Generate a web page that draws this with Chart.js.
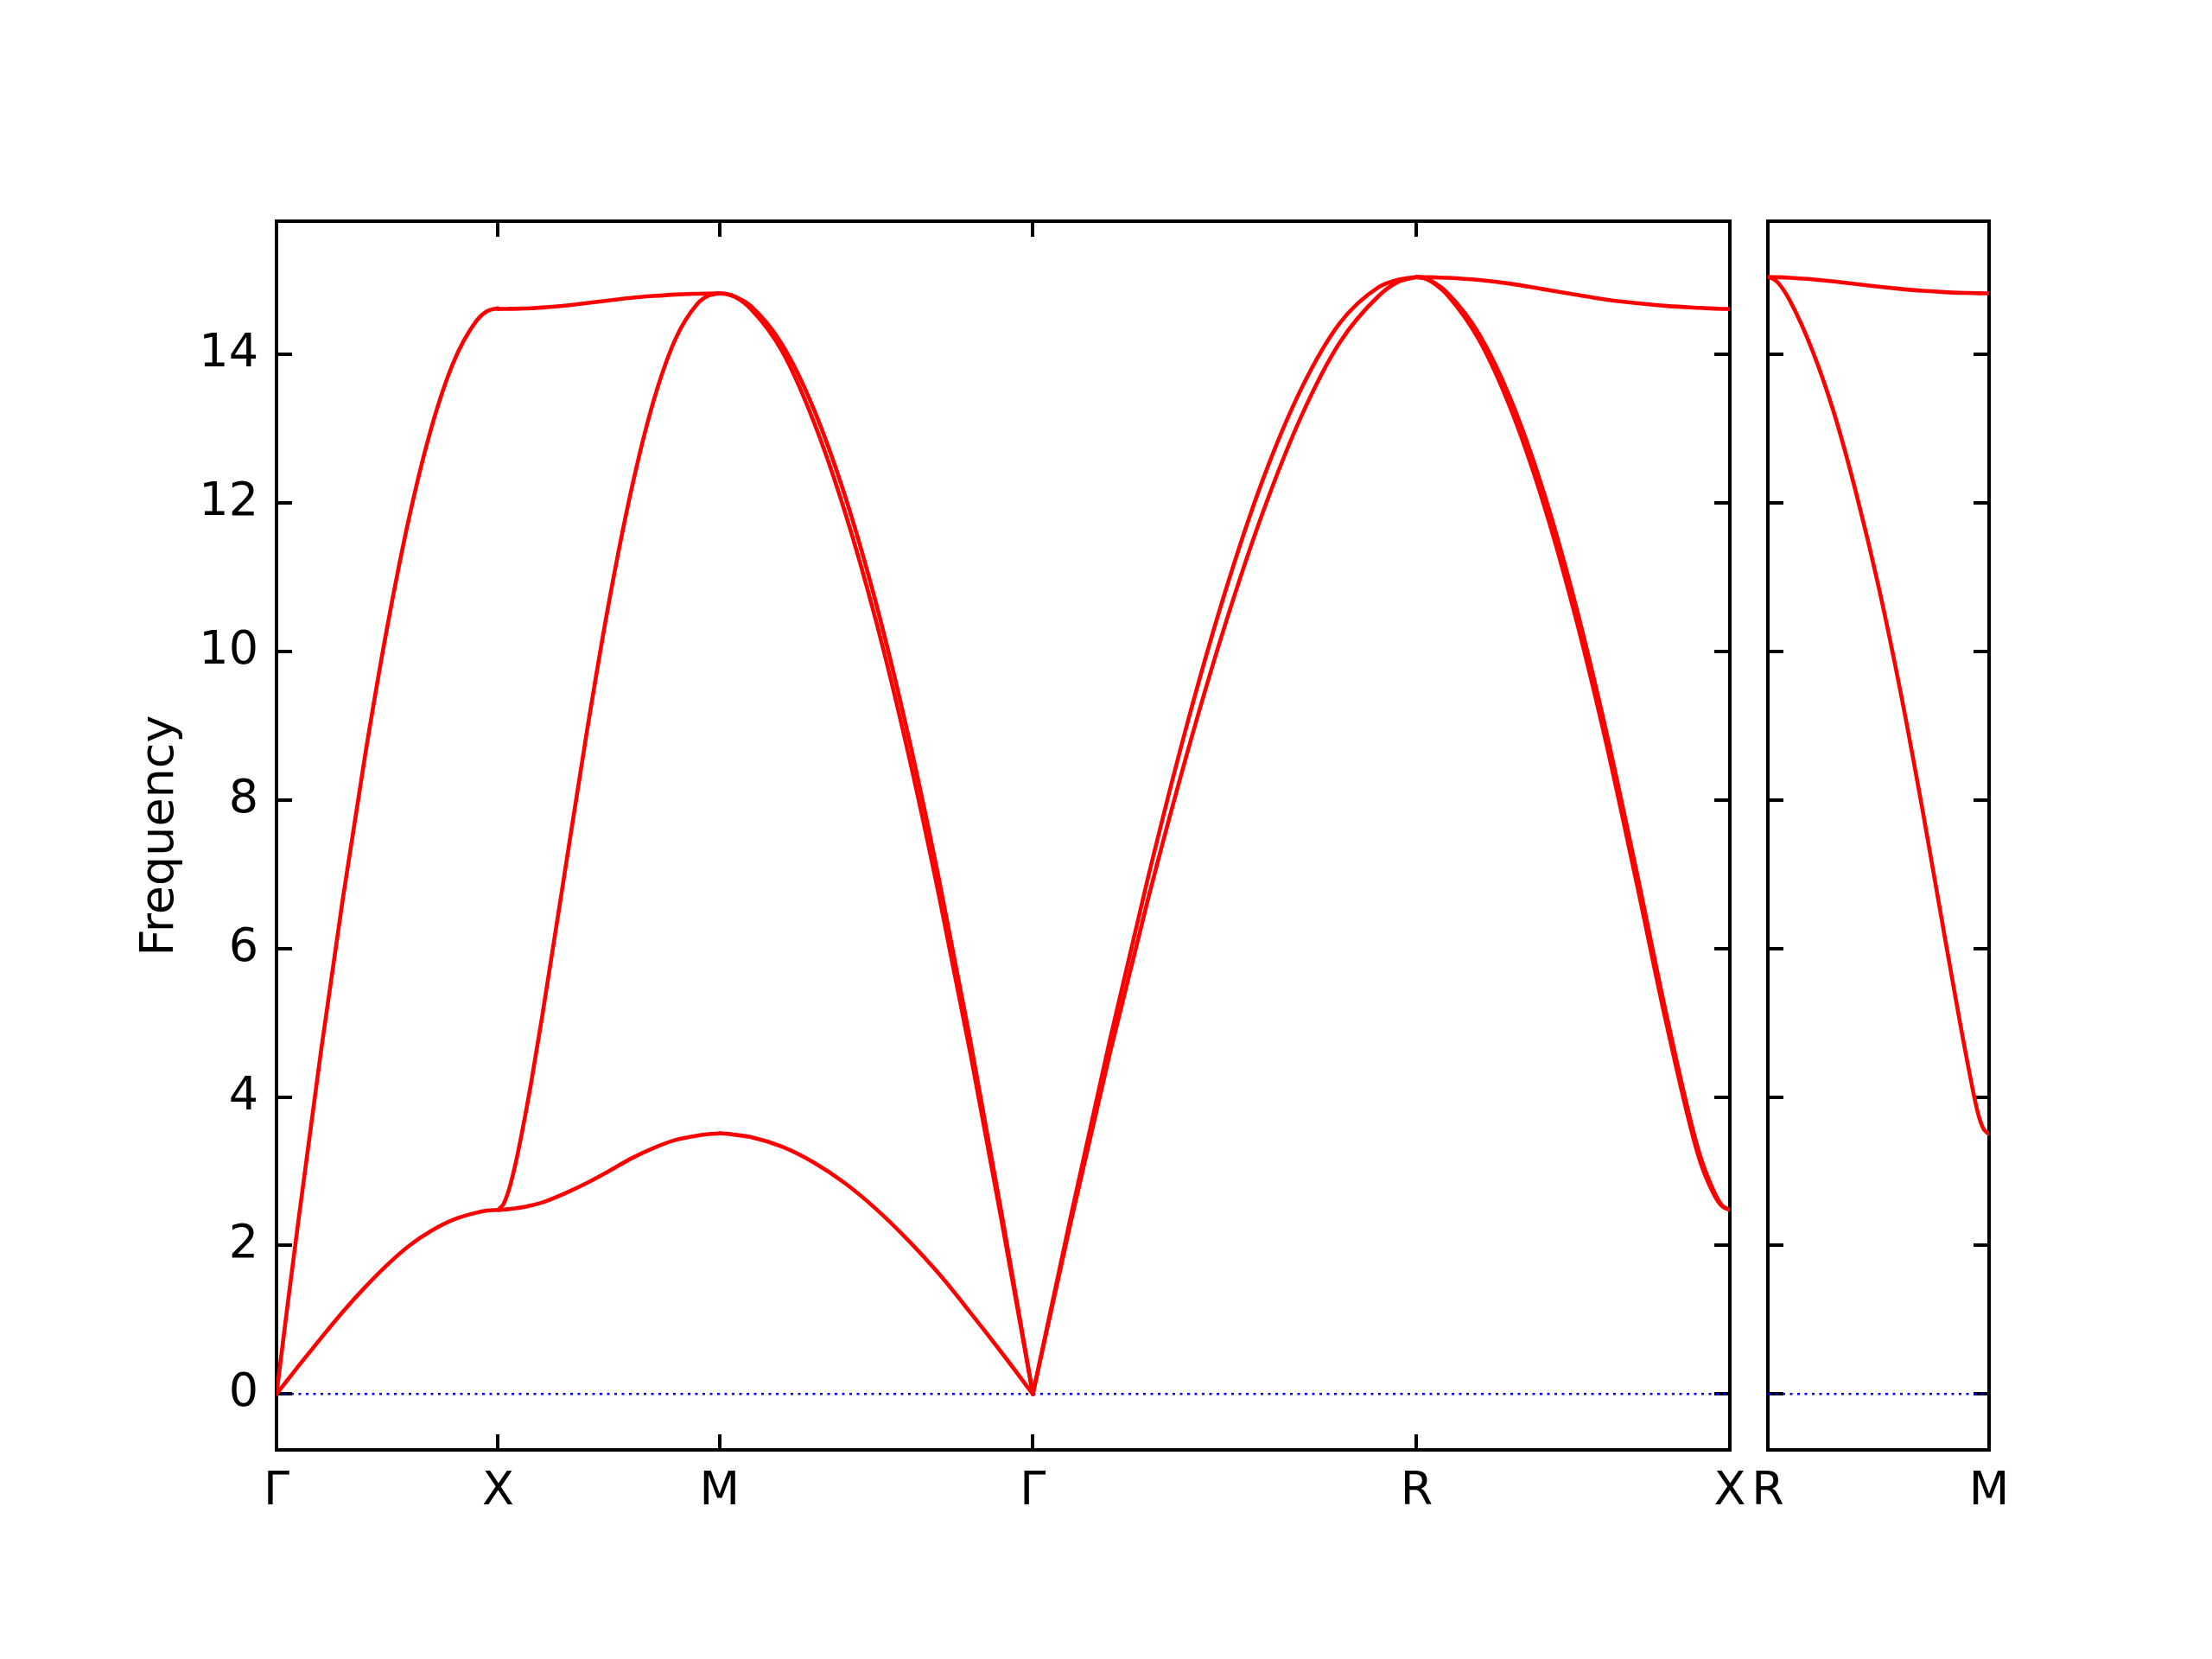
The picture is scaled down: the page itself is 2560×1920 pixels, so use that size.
<!DOCTYPE html>
<html>
<head>
<meta charset="utf-8">
<script src="https://cdn.jsdelivr.net/npm/chart.js@4"></script>
<style>
  html, body { margin: 0; padding: 0; background: #fff; }
  #wrap { position: relative; width: 2560px; height: 1920px; }
  canvas { position: absolute; left: 0; top: 0; }
</style>
</head>
<body>
<div id="wrap">
  <canvas id="bands" width="2560" height="1920"></canvas>
  <canvas id="bands2" width="2560" height="1920"></canvas>
</div>
<script>
// path and ticks
const tickLabels = ['Γ', 'X', 'M', 'Γ', 'R', 'X'];
const tickPos = [0, 1, 2, 3.4142, 5.1463, 6.5605];
const tickLabels2 = ['R', 'M'];
const tickPos2 = [0, 1];
const yTicks = [0, 2, 4, 6, 8, 10, 12, 14];
const yMin = -0.752, yMax = 15.792;

// Γ - X
const tGX = [0, .05, .1, .2, .3, .4, .5, .6, .7, .8, .9, .95, 1];
const gxLA = [0, 1.2, 2.36, 4.6, 6.68, 8.6, 10.33, 11.82, 13.02, 13.9, 14.44, 14.58, 14.62];
const gxTA = [0, .19, .38, .75, 1.11, 1.44, 1.74, 2.0, 2.2, 2.35, 2.44, 2.47, 2.48];

// X - M
const tXM = [0, .025, .05, .075, .1, .15, .2, .3, .4, .5, .6, .7, .8, .9, .95, 1];
const xmTop = [14.61, 14.611, 14.612, 14.613, 14.615, 14.62, 14.63, 14.655, 14.69, 14.725, 14.76, 14.785, 14.805, 14.815, 14.818, 14.82];
const xmMid = [2.48, 2.56, 2.76, 3.05, 3.4, 4.2, 5.1, 7.0, 8.9, 10.65, 12.15, 13.35, 14.2, 14.68, 14.79, 14.82];
const xmLow = [2.48, 2.483, 2.49, 2.5, 2.51, 2.54, 2.58, 2.7, 2.84, 3.0, 3.17, 3.31, 3.42, 3.48, 3.5, 3.51];

// M - Γ
const tMG = [0, .025, .05, .1, .2, .3, .4, .5, .6, .7, .8, .9, 1];
const mgA = [14.82, 14.81, 14.775, 14.65, 14.13, 13.27, 12.1, 10.64, 8.91, 6.94, 4.77, 2.44, 0];
const mgB = [14.82, 14.808, 14.77, 14.61, 14.04, 13.1, 11.88, 10.4, 8.67, 6.72, 4.6, 2.34, 0];
const mgLow = [3.51, 3.505, 3.49, 3.46, 3.33, 3.12, 2.84, 2.49, 2.08, 1.62, 1.1, 0.56, 0];

// Γ - R
const tGR = [0, .1, .2, .3, .4, .5, .6, .7, .8, .9, .95, 1];
const grUp = [0, 2.42, 4.75, 6.95, 8.98, 10.78, 12.32, 13.54, 14.42, 14.9, 15.0, 15.04];
const grLow = [0, 2.34, 4.57, 6.66, 8.59, 10.34, 11.88, 13.17, 14.16, 14.78, 14.97, 15.04];

// R - X
const tRX = [0, .025, .05, .1, .2, .3, .4, .5, .6, .7, .8, .9, .95, .975, 1];
const rxTop = [15.04, 15.039, 15.037, 15.03, 15.0, 14.95, 14.88, 14.81, 14.74, 14.69, 14.65, 14.625, 14.615, 14.612, 14.61];
const rxA = [15.04, 15.025, 14.98, 14.82, 14.27, 13.4, 12.22, 10.75, 9.02, 7.08, 5.06, 3.28, 2.72, 2.54, 2.48];
const rxB = [15.04, 15.022, 14.97, 14.79, 14.19, 13.27, 12.06, 10.58, 8.86, 6.93, 4.94, 3.2, 2.68, 2.53, 2.48];

// R - M (second panel)
const tRM = [0, .025, .05, .1, .2, .3, .4, .5, .6, .7, .8, .9, .95, .975, 1];
const rmTop = [15.04, 15.039, 15.037, 15.03, 15.01, 14.98, 14.945, 14.91, 14.88, 14.855, 14.837, 14.826, 14.822, 14.821, 14.82];
const rmLow = [15.04, 15.015, 14.95, 14.72, 14.06, 13.2, 12.12, 10.88, 9.45, 7.85, 6.15, 4.5, 3.78, 3.57, 3.5];

const font = { family: 'DejaVu Sans', size: 54, lineHeight: 1.2 };

function seg(k0, k1, t, vals) {
  return t.map((f, i) => ({ x: k0 + f * (k1 - k0), y: vals[i] }));
}

function band(points) {
  return {
    data: points, borderColor: '#ff0000', borderWidth: 4.6, pointRadius: 0,
    cubicInterpolationMode: 'monotone', fill: false,
    borderCapStyle: 'round', borderJoinStyle: 'round'
  };
}

function zeroLine(x0, x1) {
  return {
    data: [{ x: x0, y: 0 }, { x: x1, y: 0 }], borderColor: '#0000ff', borderWidth: 2.5,
    borderDash: [3, 5.5], pointRadius: 0, fill: false
  };
}

function makeScales(pos, labels, yWidth, showY) {
  const frame = { display: true, color: '#000', width: 4 };
  const grid = { drawOnChartArea: false, drawTicks: true, tickLength: -18, color: '#000', lineWidth: 4 };
  const setX = s => { s.ticks = pos.map(v => ({ value: v })); };
  const setY = s => { s.ticks = yTicks.map(v => ({ value: v })); };
  const xr = { type: 'linear', min: pos[0], max: pos[pos.length - 1], border: frame, grid: grid, afterBuildTicks: setX };
  const yr = { type: 'linear', min: yMin, max: yMax, border: frame, grid: grid, afterBuildTicks: setY };
  return {
    x: Object.assign({}, xr, {
      position: 'bottom',
      ticks: { font: font, color: '#000', padding: 35, autoSkip: false, minRotation: 0, maxRotation: 0,
               callback: (v, i) => labels[i] },
      afterFit: s => { s.height = 242; }
    }),
    xTop: Object.assign({}, xr, {
      position: 'top', ticks: { display: false },
      afterFit: s => { s.height = 0; }
    }),
    y: Object.assign({}, yr, {
      position: 'left',
      ticks: { display: showY, font: font, color: '#000', padding: 39 },
      title: { display: showY, text: 'Frequency', font: font, color: '#000', padding: { top: 154, bottom: 0 } },
      afterFit: s => { s.width = yWidth; }
    }),
    yRight: Object.assign({}, yr, {
      position: 'right', ticks: { display: false },
      afterFit: s => { s.width = 0; }
    })
  };
}

const k = tickPos;
const datasets1 = [
  band(seg(k[0], k[1], tGX, gxLA)),
  band(seg(k[0], k[1], tGX, gxTA)),
  band(seg(k[1], k[2], tXM, xmTop)),
  band(seg(k[1], k[2], tXM, xmMid)),
  band(seg(k[1], k[2], tXM, xmLow)),
  band(seg(k[2], k[3], tMG, mgA)),
  band(seg(k[2], k[3], tMG, mgB)),
  band(seg(k[2], k[3], tMG, mgLow)),
  band(seg(k[3], k[4], tGR, grUp)),
  band(seg(k[3], k[4], tGR, grLow)),
  band(seg(k[4], k[5], tRX, rxTop)),
  band(seg(k[4], k[5], tRX, rxA)),
  band(seg(k[4], k[5], tRX, rxB)),
  zeroLine(k[0], k[5])
];

const datasets2 = [
  band(seg(tickPos2[0], tickPos2[1], tRM, rmTop)),
  band(seg(tickPos2[0], tickPos2[1], tRM, rmLow)),
  zeroLine(tickPos2[0], tickPos2[1])
];

const common = {
  responsive: false, animation: false, devicePixelRatio: 1,
  plugins: { legend: { display: false }, tooltip: { enabled: false } }
};

new Chart(document.getElementById('bands'), {
  type: 'line',
  data: { datasets: datasets1 },
  options: Object.assign({}, common, {
    layout: { padding: { left: 0, top: 256, right: 558, bottom: 0 } },
    scales: makeScales(tickPos, tickLabels, 320, true)
  })
});

new Chart(document.getElementById('bands2'), {
  type: 'line',
  data: { datasets: datasets2 },
  options: Object.assign({}, common, {
    layout: { padding: { left: 0, top: 256, right: 258, bottom: 0 } },
    scales: makeScales(tickPos2, tickLabels2, 2046, false)
  })
});
</script>
</body>
</html>
